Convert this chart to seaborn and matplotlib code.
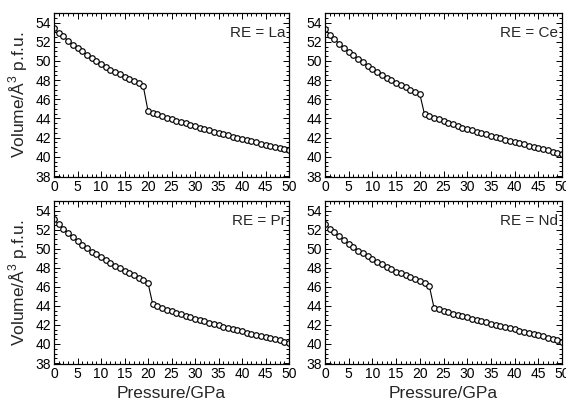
import numpy as np
import pandas as pd
import matplotlib
matplotlib.use("Agg")
import matplotlib.pyplot as plt
import seaborn as sns
from matplotlib.ticker import MultipleLocator

# Pressure grid (GPa)
pressure = np.arange(0, 51)

# Volume per formula unit (Å^3) for each rare-earth compound
vol_la = [53.4, 52.95, 52.55, 52.1, 51.7, 51.35, 51.0, 50.65, 50.3, 50.0,
          49.7, 49.4, 49.1, 48.85, 48.6, 48.35, 48.1, 47.9, 47.65, 47.35,
          44.8, 44.6, 44.43, 44.26, 44.08, 43.92, 43.77, 43.62, 43.48, 43.34,
          43.2, 43.06, 42.92, 42.78, 42.64, 42.5, 42.37, 42.24, 42.11, 41.98,
          41.86, 41.74, 41.62, 41.5, 41.38, 41.27, 41.15, 41.04, 40.92, 40.8,
          40.68]
vol_ce = [53.3, 52.75, 52.26, 51.8, 51.4, 50.95, 50.6, 50.2, 49.87, 49.5,
          49.2, 48.85, 48.55, 48.26, 48.0, 47.73, 47.5, 47.25, 47.0, 46.77,
          46.55, 44.43, 44.26, 44.1, 43.9, 43.74, 43.57, 43.4, 43.2, 43.04,
          42.9, 42.77, 42.63, 42.5, 42.35, 42.2, 42.07, 41.93, 41.8, 41.65,
          41.55, 41.4, 41.3, 41.17, 41.03, 40.92, 40.8, 40.67, 40.54, 40.4,
          40.26]
vol_pr = [53.1, 52.55, 52.1, 51.65, 51.2, 50.8, 50.4, 50.05, 49.7, 49.4,
          49.1, 48.8, 48.5, 48.2, 47.95, 47.7, 47.45, 47.2, 46.95, 46.7,
          46.4, 44.2, 44.0, 43.8, 43.6, 43.42, 43.26, 43.1, 42.94, 42.8,
          42.65, 42.5, 42.36, 42.22, 42.09, 41.96, 41.83, 41.7, 41.57, 41.44,
          41.32, 41.2, 41.08, 40.96, 40.84, 40.72, 40.6, 40.49, 40.38, 40.25,
          40.12]
vol_nd = [52.6, 52.1, 51.7, 51.3, 50.9, 50.5, 50.15, 49.8, 49.5, 49.2,
          48.9, 48.6, 48.35, 48.1, 47.85, 47.6, 47.4, 47.2, 47.0, 46.8,
          46.6, 46.35, 46.1, 43.8, 43.62, 43.47, 43.33, 43.19, 43.05, 42.92,
          42.79, 42.66, 42.53, 42.4, 42.27, 42.14, 42.01, 41.88, 41.76, 41.64,
          41.52, 41.4, 41.28, 41.16, 41.04, 40.92, 40.8, 40.68, 40.56, 40.44,
          40.2]

elements = ["La", "Ce", "Pr", "Nd"]
volumes = [vol_la, vol_ce, vol_pr, vol_nd]

sns.set_style("ticks")
plt.rcParams["font.family"] = ["Liberation Sans", "DejaVu Sans"]
plt.rcParams["mathtext.fontset"] = "custom"
plt.rcParams["mathtext.rm"] = "Liberation Sans"

fig = plt.figure(figsize=(5.66, 4.08), dpi=100)
W, H = 566, 408
boxes = [(54, 13, 289, 177), (325, 13, 562, 177),
         (54, 201, 289, 364), (325, 201, 562, 364)]

for (x0, y0, x1, y1), el, vol in zip(boxes, elements, volumes):
    ax = fig.add_axes([x0 / W, 1 - y1 / H, (x1 - x0) / W, (y1 - y0) / H])
    df = pd.DataFrame({"P": pressure, "V": vol})
    sns.lineplot(data=df, x="P", y="V", ax=ax, color="black", lw=0.8,
                 marker="o", markersize=4.0, markerfacecolor="white",
                 markeredgecolor="black", markeredgewidth=0.85)
    ax.set_xlim(0, 50)
    ax.set_ylim(37.9, 55)
    ax.xaxis.set_major_locator(MultipleLocator(5))
    ax.xaxis.set_minor_locator(MultipleLocator(1))
    ax.yaxis.set_major_locator(MultipleLocator(2))
    ax.yaxis.set_minor_locator(MultipleLocator(0.5))
    ax.tick_params(which="both", direction="in", top=True, right=True,
                   width=0.7, colors="black", labelsize=10, pad=2)
    ax.tick_params(which="major", length=4)
    ax.tick_params(which="minor", length=2)
    for s in ax.spines.values():
        s.set_linewidth(0.9)
        s.set_color("black")
    ax.set_xlabel("")
    ax.set_ylabel("")
    ax.text(0.985, 0.88, f"RE = {el}", transform=ax.transAxes,
            ha="right", va="center", fontsize=11)

fig.text(18 / W, 1 - 95 / H, r"Volume/Å$^3$ p.f.u.", rotation=90,
         ha="center", va="center", fontsize=12.5)
fig.text(18 / W, 1 - 283 / H, r"Volume/Å$^3$ p.f.u.", rotation=90,
         ha="center", va="center", fontsize=12.5)
fig.text(171 / W, 1 - 393 / H, "Pressure/GPa", ha="center", va="center",
         fontsize=12.5)
fig.text(443 / W, 1 - 393 / H, "Pressure/GPa", ha="center", va="center",
         fontsize=12.5)

fig.savefig("out.png", dpi=100, facecolor="white")
